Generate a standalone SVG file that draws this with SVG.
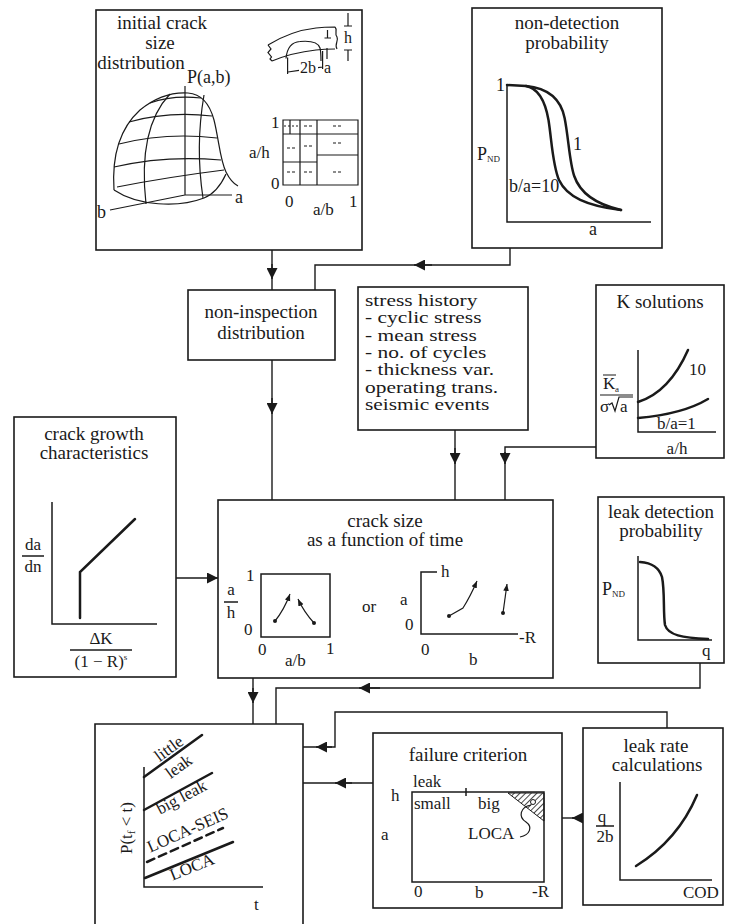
<svg xmlns="http://www.w3.org/2000/svg" width="754" height="924" viewBox="0 0 754 924">
<defs>
<style>
.box{fill:#fff;stroke:#1a1a1a;stroke-width:1.6}
.ax{fill:none;stroke:#1a1a1a;stroke-width:1.5}
.cv{fill:none;stroke:#1a1a1a;stroke-width:2.5;stroke-linecap:round}
.ln{fill:none;stroke:#1a1a1a;stroke-width:1.2}
.con{fill:none;stroke:#1a1a1a;stroke-width:1.4}
.dd{fill:none;stroke:#1a1a1a;stroke-width:1.1;stroke-dasharray:3 2}
text{font-family:"Liberation Serif","Times New Roman",serif;font-size:18px;fill:#1a1a1a}
.ti{font-size:19px}
.m{text-anchor:middle}
.l{font-size:17px}
.s16{font-size:16px}
.sm{font-size:9px}
</style>
<marker id="ah" viewBox="0 0 10 10" refX="10" refY="5" markerWidth="11" markerHeight="11" markerUnits="userSpaceOnUse" orient="auto"><path d="M0,0 L10,5 L0,10 Z" fill="#1a1a1a"/></marker>
<marker id="sa" viewBox="0 0 10 10" refX="10" refY="5" markerWidth="7" markerHeight="7" markerUnits="userSpaceOnUse" orient="auto"><path d="M0,1 L10,5 L0,9 Z" fill="#1a1a1a"/></marker>
<pattern id="hatch" patternUnits="userSpaceOnUse" width="4" height="4" patternTransform="rotate(45)"><line x1="0" y1="0" x2="0" y2="4" stroke="#1a1a1a" stroke-width="1.6"/></pattern>
</defs>
<rect width="754" height="924" fill="#fff"/>

<g id="initial-crack-size">
<rect class="box" x="96" y="10" width="266" height="240"/>
<text class="m ti" x="162" y="29">initial crack</text>
<text class="m ti" x="160" y="49">size</text>
<text class="m ti" x="141" y="69">distribution</text>
<text x="187" y="83">P(a,b)</text>
<path class="ln" d="M114,190 C112,160 118,130 140,110 C156,97 172,92 188,93 C202,94 210,105 214,120 C219,140 220,160 226,172 C230,180 234,184 238,186"/>
<path class="ln" d="M114,190 C138,206 178,208 204,198 C214,194 221,185 226,174"/>
<path class="ln" d="M150,103 Q172,95 201,98 M129,122 Q168,111 212,116 M119,144 Q166,132 217,138 M114,167 Q165,155 221,160 M117,187 Q168,177 224,170"/>
<path class="ln" d="M170,94 C150,115 140,150 146,204 M204,95 C198,130 198,165 203,198"/>
<path class="ln" d="M185,86 V195 L232,195 M185,195 L110,210"/>
<text x="235" y="203">a</text>
<text x="97" y="218">b</text>
<path class="ln" d="M268,45 C281,37 298,30 316,28 C324,27 331,27 335,27 M272,61 C284,56 298,52 316,50 C324,49 331,49 335,49 M268,45 L271,49 L268,52.5 L271.5,57 L270,59 L272,61 M335,27 C338,30 334,34 337,37 C339,41 334,44 337,49"/>
<path class="ln" d="M286,58.5 C287,48 292,42 300,41.5 C310,40.6 318,42 320,48 C321,52 321,57 321,61"/>
<path class="ln" d="M287.6,57.6 V74 M322.6,51 V69 M288,72 L299,70.4 M318,67.6 L322.6,67 M327.5,30 V38 M324.5,38 H331 M327,48 V59 M348,13 V26 M344,26 H352 M344,50 H352 M348,50 V61"/>
<text class="s16" x="300" y="73">2b</text>
<text class="s16" x="324" y="73">a</text>
<text class="s16" x="344" y="43">h</text>
<path class="ln" d="M283,120 H358 V185 H283 Z M300,120 V185 M317,120 V185 M283,134 H358 M283,162 H317 M317,155 H358 M290,120 V134"/>
<path class="ln" stroke-dasharray="2 2" d="M284,126 H299"/>
<path class="dd" d="M304,126 h8 M333,126 h8 M287,148 h8 M304,146 h8 M333,143 h8 M287,172 h8 M304,172 h8 M333,172 h8"/>
<text class="l" x="271" y="128">1</text>
<text class="l" x="249" y="158">a/h</text>
<text class="l" x="271" y="189">0</text>
<text class="l" x="285" y="207">0</text>
<text class="l" x="313" y="215">a/b</text>
<text class="l" x="349" y="207">1</text>
</g>

<g id="non-detection-probability">
<rect class="box" x="472" y="8" width="190" height="240"/>
<text class="m ti" x="567" y="29">non-detection</text>
<text class="m ti" x="567" y="49">probability</text>
<path class="ax" d="M507,85 V222 H651"/>
<path class="cv" d="M507,85 L526,86 C537,88 545,100 548.5,120 C551.7,140 552.5,165 559,180 C567,197 587,206 621,210"/>
<path class="cv" d="M526,86 C547,88 560.6,98 564.6,118 C568.6,138 569.4,162 574.2,176 C580.7,195 599,205 621,210"/>
<text x="496" y="91">1</text>
<text x="477" y="160">P<tspan class="sm" dy="2">ND</tspan></text>
<text x="509" y="192">b/a=10</text>
<text x="573" y="150">1</text>
<text x="589" y="235">a</text>
</g>

<g id="non-inspection-distribution">
<rect class="box" x="188" y="290" width="147" height="70"/>
<text class="m ti" x="261" y="318">non-inspection</text>
<text class="m ti" x="261" y="339">distribution</text>
</g>

<g id="stress-history">
<rect class="box" x="358" y="287" width="170" height="143"/>
<g transform="translate(365,0) scale(1.26,1)">
<text class="l" x="0" y="306">stress history</text>
<text class="l" x="0" y="323">- cyclic stress</text>
<text class="l" x="0" y="341">- mean stress</text>
<text class="l" x="0" y="358">- no. of cycles</text>
<text class="l" x="0" y="375">- thickness var.</text>
<text class="l" x="0" y="393">operating trans.</text>
<text class="l" x="0" y="410">seismic events</text>
</g>
</g>

<g id="k-solutions">
<rect class="box" x="596" y="285" width="128" height="173"/>
<text class="m ti" x="660" y="308">K solutions</text>
<path class="ax" d="M638,350 V432 H716"/>
<path class="cv" d="M638,402 C654,397 673,384 688,350"/>
<path class="cv" d="M638,418 C661,416 688,411 708,399"/>
<text class="l" x="689" y="375">10</text>
<text class="l" x="657" y="429">b/a=1</text>
<text class="m l" x="677" y="454">a/h</text>
<text class="l" x="603" y="389">K</text>
<path class="ln" d="M603,375 H616 M600,395 H633"/>
<text class="sm" x="615" y="392">a</text>
<text class="l" x="600" y="412">σ</text>
<path class="ln" d="M609,405 L612,403 L615,411 L619,397 H633"/>
<text class="l" x="620" y="412">a</text>
</g>

<g id="crack-growth-characteristics">
<rect class="box" x="14" y="417" width="162" height="260"/>
<text class="m ti" x="94" y="440">crack growth</text>
<text class="m ti" x="94" y="459">characteristics</text>
<path class="ax" d="M52,502 V624 H157"/>
<path class="cv" d="M80,618 V572 L135,519"/>
<text class="m l" x="33" y="550">da</text>
<path class="ax" d="M22,556 H44"/>
<text class="m l" x="33" y="572">dn</text>
<text class="m l" x="101" y="644">ΔK</text>
<path class="ax" d="M70,650 H132"/>
<text class="m l" x="101" y="667">(1 − R)<tspan class="sm" dy="-7">s</tspan></text>
</g>

<g id="crack-size-vs-time">
<rect class="box" x="218" y="500" width="335" height="178"/>
<text class="m ti" x="385" y="527">crack size</text>
<text class="m ti" x="385" y="546">as a function of time</text>
<rect class="ax" x="261" y="574" width="69" height="63"/>
<path class="ln" d="M275,621 Q284,610 290,594" marker-end="url(#sa)"/>
<path class="ln" d="M314,623 Q304,612 298,599" marker-end="url(#sa)"/>
<circle cx="275" cy="621" r="2" fill="#1a1a1a"/>
<circle cx="314" cy="623" r="2" fill="#1a1a1a"/>
<text class="l" x="246" y="581">1</text>
<text class="l" x="244" y="635">0</text>
<text class="m l" x="231" y="595">a</text>
<path class="ax" d="M224,602 H238"/>
<text class="m l" x="231" y="618">h</text>
<text class="l" x="258" y="655">0</text>
<text class="l" x="326" y="654">1</text>
<text class="l" x="285" y="666">a/b</text>
<text class="l" x="362" y="612">or</text>
<path class="ax" d="M437,572 H421 V634 H518"/>
<path class="ln" d="M449,616 L463,608 Q470,597 477,581" marker-end="url(#sa)"/>
<path class="ln" d="M503,613 L507,584" marker-end="url(#sa)"/>
<circle cx="449" cy="616" r="2" fill="#1a1a1a"/>
<circle cx="503" cy="613" r="2" fill="#1a1a1a"/>
<text class="l" x="441" y="577">h</text>
<text class="l" x="400" y="605">a</text>
<text class="l" x="405" y="630">0</text>
<text class="l" x="421" y="655">0</text>
<text class="l" x="469" y="665">b</text>
<text class="l" x="519" y="643">-R</text>
</g>

<g id="leak-detection-probability">
<rect class="box" x="598" y="497" width="126" height="166"/>
<text class="m ti" x="661" y="518">leak detection</text>
<text class="m ti" x="661" y="537">probability</text>
<path class="ax" d="M638,556 V640 H712"/>
<path class="cv" d="M640,562 C652,563 659,567 662,577 C665,592 663,612 665,625 C668,635 682,638 708,639"/>
<text x="602" y="595">P<tspan class="sm" dy="2">ND</tspan></text>
<text class="l" x="702" y="656">q</text>
</g>

<g id="failure-probability">
<path class="box" d="M95,926 V724 H303 V926"/>
<path class="ax" d="M144,767 V887 H263"/>
<path class="cv" d="M144,777 L202,735"/>
<path class="cv" d="M144,810 L212,773"/>
<path class="cv" stroke-dasharray="8 5" d="M147,862 L223,828"/>
<path class="cv" d="M145,878 L233,842"/>
<text class="m l" transform="translate(172,753) rotate(-36)">little</text>
<text class="m l" transform="translate(182,771) rotate(-36)">leak</text>
<text class="m l" transform="translate(184,802) rotate(-28)">big leak</text>
<text class="m l" transform="translate(190,835) rotate(-24)">LOCA-SEIS</text>
<text class="m l" transform="translate(194,872) rotate(-22)">LOCA</text>
<text class="m l" transform="translate(132,828) rotate(-90)">P(t<tspan font-size="11" dy="3">f</tspan><tspan dy="-3"> &lt; t)</tspan></text>
<text class="l" x="254" y="910">t</text>
</g>

<g id="failure-criterion">
<rect class="box" x="373" y="733" width="189" height="175"/>
<text class="m ti" x="468" y="761">failure criterion</text>
<rect class="ax" x="412" y="792" width="132" height="90"/>
<path class="ax" d="M466,788 V796"/>
<polygon points="508,793 544,793 544,821" fill="url(#hatch)" stroke="#1a1a1a" stroke-width="1"/>
<circle cx="533" cy="802" r="2.5" fill="#fff" stroke="#1a1a1a" stroke-width="1"/>
<path class="ln" d="M531,805 C520,807 518,817 526,822 C533,827 530,835 520,837"/>
<text class="l" x="413" y="787">leak</text>
<text class="l" x="414" y="809">small</text>
<text class="l" x="478" y="809">big</text>
<text class="l" x="391" y="801">h</text>
<text class="l" x="381" y="840">a</text>
<text class="l" x="468" y="839">LOCA</text>
<text class="l" x="414" y="897">0</text>
<text class="l" x="475" y="898">b</text>
<text class="l" x="532" y="897">-R</text>
</g>

<g id="leak-rate-calculations">
<rect class="box" x="583" y="728" width="140" height="177"/>
<text class="m ti" x="656" y="752">leak rate</text>
<text class="m ti" x="657" y="771">calculations</text>
<path class="ax" d="M620,782 V880 H712"/>
<path class="cv" d="M636,866 Q678,840 697,795"/>
<text class="m l" x="602" y="822">q</text>
<path class="ax" d="M596,826 H614"/>
<text class="m l" x="605" y="842">2b</text>
<text class="l" x="683" y="898">COD</text>
</g>

<g id="connectors" class="con">
<path d="M272,250 V290"/><path d="M272,264 V279" marker-end="url(#ah)"/>
<path d="M510,248 V265 H315 V290"/><path d="M432,265 H414" marker-end="url(#ah)"/>
<path d="M272,360 V500"/><path d="M272,398 V414" marker-end="url(#ah)"/>
<path d="M455,430 V500"/><path d="M455,448 V464" marker-end="url(#ah)"/>
<path d="M596,447 H505 V500"/><path d="M505,452 V464" marker-end="url(#ah)"/>
<path d="M176,578 H218" marker-end="url(#ah)"/>
<path d="M253,678 V724"/><path d="M253,688 V703" marker-end="url(#ah)"/>
<path d="M700,663 V688 H276 V724"/><path d="M380,688 H359" marker-end="url(#ah)"/>
<path d="M667,728 V712 H335 V747 H303"/><path d="M332,747 H316" marker-end="url(#ah)"/>
<path d="M373,783 H303"/><path d="M352,783 H335" marker-end="url(#ah)"/>
<path d="M583,818 H562"/><path d="M583,818 H572" marker-end="url(#ah)"/>
</g>
</svg>
